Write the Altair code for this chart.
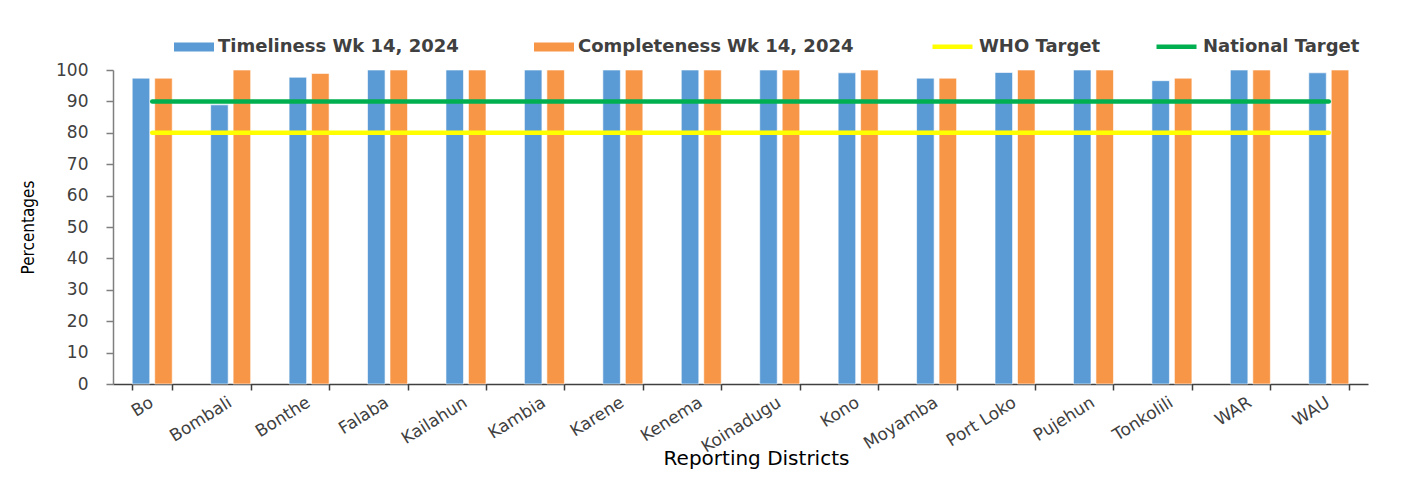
import altair as alt
import pandas as pd

districts = ["Bo", "Bombali", "Bonthe", "Falaba", "Kailahun", "Kambia", "Karene", "Kenema",
             "Koinadugu", "Kono", "Moyamba", "Port Loko", "Pujehun", "Tonkolili", "WAR", "WAU"]
timeliness = [97.4, 88.9, 97.7, 100, 100, 100, 100, 100, 100, 99.1, 97.4, 99.2, 100, 96.6, 100, 99.1]
completeness = [97.4, 100, 98.9, 100, 100, 100, 100, 100, 100, 100, 97.4, 100, 100, 97.4, 100, 100]
who_target = [80, 80, 80, 80, 80, 80, 80, 80, 80, 80, 80, 80, 80, 80, 80, 80]
national_target = [90, 90, 90, 90, 90, 90, 90, 90, 90, 90, 90, 90, 90, 90, 90, 90]

bar_series = ["Timeliness Wk 14, 2024", "Completeness Wk 14, 2024"]
bar_colors = ["#5B9BD5", "#F79646"]
line_series = ["WHO Target", "National Target"]
line_colors = ["#FFFF00", "#00B050"]
y_ticks = [0, 10, 20, 30, 40, 50, 60, 70, 80, 90, 100]

bars_df = pd.DataFrame({
    "district": districts * 2,
    "series": [bar_series[0]] * len(districts) + [bar_series[1]] * len(districts),
    "value": timeliness + completeness,
})
lines_df = pd.DataFrame({
    "district": districts * 2,
    "target": [line_series[0]] * len(districts) + [line_series[1]] * len(districts),
    "value": who_target + national_target,
})

AX_FONT = "DejaVu Sans"
LEG_FONT = "DejaVu Sans"

x_axis = alt.Axis(
    title="Reporting Districts", labelAngle=328, tickBand="extent",
    labelFont=AX_FONT, labelFontSize=17, labelColor="#404040", labelPadding=4,
    labelOffset=-5, labelOverlap=False,
    tickSize=6, tickColor="#404040", tickWidth=1.5,
    domainColor="#404040", domainWidth=1.5,
    titleFont=AX_FONT, titleFontSize=20, titleFontWeight="normal", titleColor="#000000",
    titleX=643, titleY=74, titleBaseline="middle",
)
y_axis = alt.Axis(
    title="Percentages", values=y_ticks, tickCount=11, grid=False, labelOverlap=False,
    labelFont=AX_FONT, labelFontSize=17, labelColor="#404040", labelPadding=18,
    tickSize=7, tickColor="#7f7f7f", tickWidth=1.5,
    domainColor="#7f7f7f", domainWidth=1.5,
    titleFont="Liberation Sans Narrow, DejaVu Sans Condensed, sans-serif",
    titleFontSize=17, titleFontWeight="normal", titleColor="#000000",
    titleX=-85, titleBaseline="middle",
)

x_scale = alt.Scale(paddingInner=0.49, paddingOuter=0.245)
y_scale = alt.Scale(domain=[0, 100], nice=False)

bars = alt.Chart(bars_df).mark_bar(stroke="white", strokeWidth=1, strokeOpacity=0.6).encode(
    x=alt.X("district:N", sort=districts, scale=x_scale, axis=x_axis),
    xOffset=alt.XOffset("series:N", sort=bar_series, scale=alt.Scale(paddingInner=0.22)),
    y=alt.Y("value:Q", scale=y_scale, axis=y_axis),
    fill=alt.Fill(
        "series:N",
        scale=alt.Scale(domain=bar_series, range=bar_colors),
        legend=alt.Legend(
            title=None, orient="none", legendX=61, legendY=-43, direction="horizontal",
            symbolType="M-1,-0.22H1V0.22H-1Z", symbolSize=1600, symbolStrokeWidth=0,
            labelFont=LEG_FONT, labelFontSize=18, labelFontWeight="bold", labelColor="#404040",
            labelOffset=4, labelLimit=500, columnPadding=75,
        ),
    ),
)

lines = alt.Chart(lines_df).mark_line(strokeWidth=4.5, strokeCap="round").encode(
    x=alt.X("district:N", sort=districts, scale=x_scale, axis=x_axis),
    y=alt.Y("value:Q", scale=y_scale, axis=y_axis),
    stroke=alt.Stroke(
        "target:N",
        scale=alt.Scale(domain=line_series, range=line_colors),
        legend=alt.Legend(
            title=None, orient="none", legendX=817, legendY=-46, direction="horizontal",
            symbolType="stroke", symbolSize=1600, symbolStrokeWidth=4.5,
            labelFont=LEG_FONT, labelFontSize=18, labelFontWeight="bold", labelColor="#404040",
            labelOffset=4, labelLimit=500, columnPadding=46,
        ),
    ),
)

chart = alt.layer(bars, lines).properties(
    width=1255, height=314,
    padding={"left": 105, "top": 62, "right": 43, "bottom": 86},
    autosize=alt.AutoSizeParams(type="none"),
    background="white",
).configure_view(stroke=None)

chart.save("out.html", embed_options={"renderer": "svg", "actions": False})
